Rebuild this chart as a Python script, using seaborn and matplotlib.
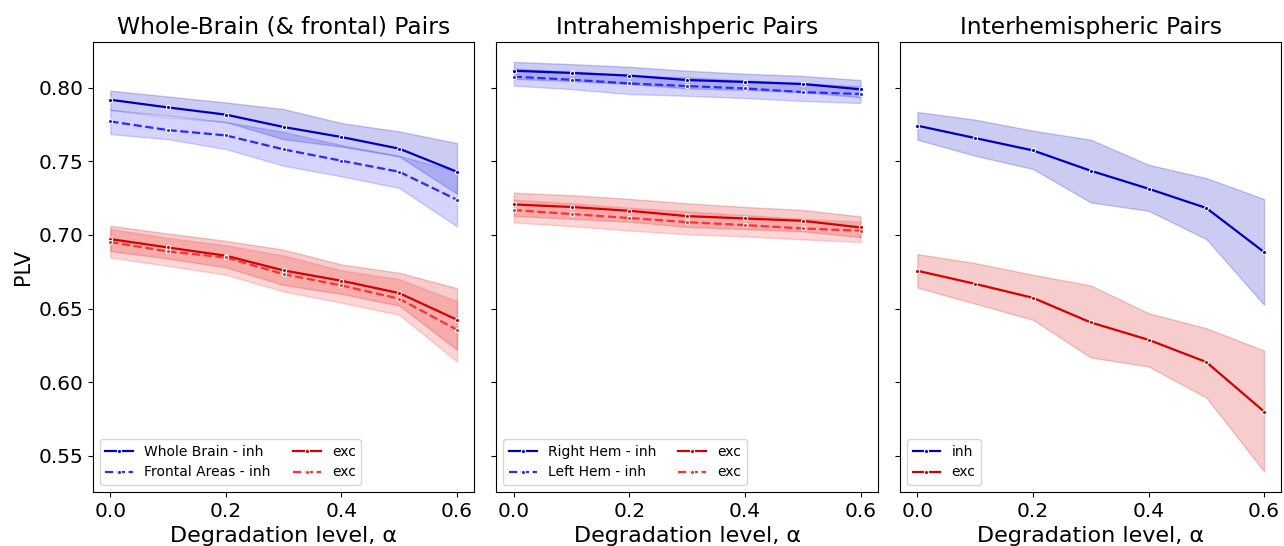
import numpy as np
import pandas as pd
import matplotlib
matplotlib.use("Agg")
import matplotlib.pyplot as plt
import seaborn as sns

alpha_levels = [0.0, 0.1, 0.2, 0.3, 0.4, 0.5, 0.6]

# Panel 1: whole brain & frontal
wb_inh = [0.7918, 0.7866, 0.7817, 0.7733, 0.7665, 0.7586, 0.7429]
wb_inh_hi = [0.7980, 0.7940, 0.7900, 0.7855, 0.7760, 0.7703, 0.7624]
wb_inh_lo = [0.7850, 0.7810, 0.7767, 0.7650, 0.7600, 0.7533, 0.7280]
fr_inh = [0.7771, 0.7712, 0.7676, 0.7581, 0.7504, 0.7429, 0.7239]
fr_inh_hi = [0.7850, 0.7800, 0.7767, 0.7700, 0.7610, 0.7538, 0.7430]
fr_inh_lo = [0.7685, 0.7650, 0.7583, 0.7470, 0.7398, 0.7319, 0.7058]
wb_exc = [0.6972, 0.6915, 0.6859, 0.6759, 0.6689, 0.6605, 0.6424]
wb_exc_hi = [0.7062, 0.7010, 0.6960, 0.6900, 0.6800, 0.6743, 0.6639]
wb_exc_lo = [0.6890, 0.6840, 0.6780, 0.6660, 0.6600, 0.6520, 0.6220]
fr_exc = [0.6952, 0.6888, 0.6847, 0.6734, 0.6657, 0.6567, 0.6356]
fr_exc_hi = [0.7040, 0.6980, 0.6930, 0.6860, 0.6760, 0.6700, 0.6550]
fr_exc_lo = [0.6847, 0.6790, 0.6730, 0.6616, 0.6540, 0.6458, 0.6140]

# Panel 2: intra-hemispheric
rh_inh = [0.8115, 0.8100, 0.8082, 0.8052, 0.8039, 0.8025, 0.7989]
rh_inh_hi = [0.8175, 0.8160, 0.8142, 0.8115, 0.8095, 0.8080, 0.8052]
rh_inh_lo = [0.8060, 0.8045, 0.8025, 0.7995, 0.7985, 0.7970, 0.7935]
lh_inh = [0.8075, 0.8054, 0.8029, 0.8011, 0.7995, 0.7970, 0.7957]
lh_inh_hi = [0.8130, 0.8110, 0.8085, 0.8070, 0.8050, 0.8030, 0.8010]
lh_inh_lo = [0.8014, 0.7990, 0.7957, 0.7945, 0.7930, 0.7910, 0.7896]
rh_exc = [0.7207, 0.7190, 0.7164, 0.7128, 0.7112, 0.7096, 0.7051]
rh_exc_hi = [0.7287, 0.7270, 0.7245, 0.7215, 0.7190, 0.7170, 0.7126]
rh_exc_lo = [0.7130, 0.7110, 0.7090, 0.7055, 0.7040, 0.7025, 0.6985]
lh_exc = [0.7169, 0.7142, 0.7115, 0.7087, 0.7067, 0.7044, 0.7029]
lh_exc_hi = [0.7240, 0.7215, 0.7185, 0.7160, 0.7135, 0.7110, 0.7090]
lh_exc_lo = [0.7085, 0.7060, 0.7030, 0.7005, 0.6990, 0.6970, 0.6952]

# Panel 3: inter-hemispheric
ih_inh = [0.7742, 0.7658, 0.7574, 0.7436, 0.7314, 0.7183, 0.6884]
ih_inh_hi = [0.7835, 0.7783, 0.7708, 0.7647, 0.7477, 0.7386, 0.7244]
ih_inh_lo = [0.7647, 0.7538, 0.7448, 0.7221, 0.7164, 0.6972, 0.6526]
ih_exc = [0.6757, 0.6668, 0.6573, 0.6406, 0.6288, 0.6137, 0.5801]
ih_exc_hi = [0.6870, 0.6809, 0.6730, 0.6657, 0.6469, 0.6367, 0.6215]
ih_exc_lo = [0.6643, 0.6533, 0.6424, 0.6168, 0.6107, 0.5896, 0.5394]

titles = ["Whole-Brain (& frontal) Pairs", "Intrahemishperic Pairs", "Interhemispheric Pairs"]

C_INH = "#0000c0"
C_INH2 = "#2a2aff"
C_EXC = "#d40000"
C_EXC2 = "#ff3030"

panels = [
    [("Whole Brain - inh", wb_inh, wb_inh_lo, wb_inh_hi, C_INH, "-"),
     ("Frontal Areas - inh", fr_inh, fr_inh_lo, fr_inh_hi, C_INH2, "--"),
     ("exc", wb_exc, wb_exc_lo, wb_exc_hi, C_EXC, "-"),
     ("exc", fr_exc, fr_exc_lo, fr_exc_hi, C_EXC2, "--")],
    [("Right Hem - inh", rh_inh, rh_inh_lo, rh_inh_hi, C_INH, "-"),
     ("Left Hem - inh", lh_inh, lh_inh_lo, lh_inh_hi, C_INH2, "--"),
     ("exc", rh_exc, rh_exc_lo, rh_exc_hi, C_EXC, "-"),
     ("exc", lh_exc, lh_exc_lo, lh_exc_hi, C_EXC2, "--")],
    [("inh", ih_inh, ih_inh_lo, ih_inh_hi, C_INH, "-"),
     ("exc", ih_exc, ih_exc_lo, ih_exc_hi, C_EXC, "-")],
]

fig, axes = plt.subplots(1, 3, figsize=(12.84, 5.46), dpi=100, sharey=True)
fig.subplots_adjust(left=0.0724, right=0.998, top=0.923, bottom=0.099, wspace=0.058)

for ax, title, series in zip(axes, titles, panels):
    for label, mid, lo, hi, color, ls in series:
        df = pd.DataFrame({
            "alpha": list(alpha_levels) * 3,
            "PLV": list(lo) + list(mid) + list(hi),
        })
        sns.lineplot(data=df, x="alpha", y="PLV", estimator="median",
                     errorbar=("pi", 100), color=color, linestyle=ls,
                     marker=".", markersize=6, linewidth=1.6,
                     label=label, ax=ax)
    ax.set_title(title, fontsize=16.8)
    ax.set_xlabel("Degradation level, α", fontsize=16)
    ax.set_ylabel("PLV", fontsize=15)
    ax.tick_params(labelsize=14.5)
    ax.set_xticks([0.0, 0.2, 0.4, 0.6])
    ax.set_xlim(-0.03, 0.63)
    ncol = 2 if len(series) > 2 else 1
    ax.legend(loc="lower left", ncol=ncol, fontsize=10, columnspacing=1.6,
              handlelength=2.0)

axes[0].set_ylim(0.5255, 0.831)

fig.savefig("out.png", dpi=100)
